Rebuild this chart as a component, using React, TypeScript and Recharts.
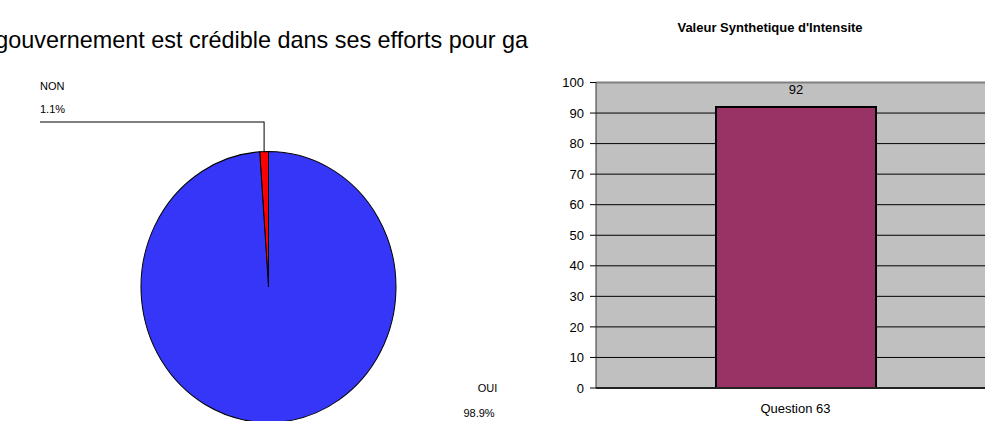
import React from 'react';
import {
  PieChart,
  Pie,
  Cell,
  BarChart,
  Bar,
  XAxis,
  YAxis,
  CartesianGrid,
  LabelList,
  ReferenceLine,
} from 'recharts';

const pieTitle = 'gouvernement est crédible dans ses efforts pour ga';
const pieLabels = ['NON', 'OUI'];
const pieValues = [1.1, 98.9];
const pieColors = ['#ff0000', '#3636f8'];

const barTitle = "Valeur Synthetique d'Intensite";
const barCategories = ['Question 63'];
const barValues = [92];
const yTicks = [0, 10, 20, 30, 40, 50, 60, 70, 80, 90, 100];

const pieData = pieLabels.map((name, i) => ({ name, value: pieValues[i] }));
const barData = barCategories.map((name, i) => ({ name, value: barValues[i] }));

const FONT = '"Liberation Sans", Arial, Helvetica, sans-serif';

// vertical stretch of the pie (it is slightly elliptical in the reference)
const PIE_CX = 268.5;
const PIE_CY = 287;
const PIE_R = 127.5;
const SY = 135.5 / 127.5;

// text that cancels the vertical stretch, so the glyphs keep their shape
function Txt(props: { x: number; y: number; anchor?: string; children: React.ReactNode }) {
  return (
    <text
      transform={`translate(${props.x},${props.y}) scale(1,${1 / SY})`}
      x={0}
      y={0}
      fontSize={11}
      fontFamily={FONT}
      fill="#000"
      textAnchor={props.anchor || 'start'}
    >
      {props.children}
    </text>
  );
}

// convert a wanted on-screen y to the unstretched y inside the chart
const uy = (yFinal: number) => PIE_CY + (yFinal - PIE_CY) / SY;

function renderPieLabel(props: any) {
  const { cx, cy, midAngle, outerRadius, index, percent, name } = props;
  const RAD = Math.PI / 180;
  const pct = (percent * 100).toFixed(1) + '%';
  if (index === 0) {
    const ax = cx + outerRadius * Math.cos(-midAngle * RAD);
    const ay = cy + outerRadius * Math.sin(-midAngle * RAD);
    const lineY = uy(122);
    const tx = 40;
    return (
      <g>
        <polyline
          points={`${tx},${lineY} ${ax},${lineY} ${ax},${ay}`}
          fill="none"
          stroke="#000"
          strokeWidth={1}
          vectorEffect="non-scaling-stroke"
        />
        <Txt x={tx} y={uy(89.5)}>{name}</Txt>
        <Txt x={tx} y={uy(112.5)}>{pct}</Txt>
      </g>
    );
  }
  return (
    <g>
      <Txt x={cx + 219} y={uy(392)} anchor="middle">{name}</Txt>
      <Txt x={cx + 210.5} y={uy(416.5)} anchor="middle">{pct}</Txt>
    </g>
  );
}

export default function App() {
  return (
    <div
      style={{
        position: 'fixed',
        left: 0,
        top: 0,
        width: 985,
        height: 421,
        overflow: 'hidden',
        background: '#fff',
        fontFamily: FONT,
      }}
    >
      <div
        style={{
          position: 'absolute',
          right: 985 - 528,
          top: 26,
          fontSize: 23.4,
          whiteSpace: 'nowrap',
          lineHeight: '28px',
          color: '#000',
        }}
      >
        {pieTitle}
      </div>
      <div
        style={{
          position: 'absolute',
          left: 0,
          top: 0,
          transform: `scaleY(${SY})`,
          transformOrigin: `0px ${PIE_CY}px`,
        }}
      >
        <PieChart width={560} height={421} margin={{ top: 0, right: 0, bottom: 0, left: 0 }}>
          <Pie
            data={pieData}
            dataKey="value"
            nameKey="name"
            cx={PIE_CX}
            cy={PIE_CY}
            outerRadius={PIE_R}
            startAngle={90}
            endAngle={450}
            stroke="#000"
            strokeWidth={1}
            label={renderPieLabel}
            labelLine={false}
            isAnimationActive={false}
          >
            {pieData.map((d, i) => (
              <Cell key={d.name} fill={pieColors[i]} />
            ))}
          </Pie>
        </PieChart>
      </div>
      <div
        style={{
          position: 'absolute',
          left: 620,
          width: 300,
          top: 20,
          textAlign: 'center',
          fontSize: 13,
          fontWeight: 'bold',
          whiteSpace: 'nowrap',
          lineHeight: '16px',
          color: '#000',
        }}
      >
        {barTitle}
      </div>
      <div style={{ position: 'absolute', left: 540, top: 0 }}>
        <BarChart
          width={460}
          height={421}
          data={barData}
          margin={{ top: 82.5, right: 5, bottom: 3, left: 0 }}
          barCategoryGap={0}
        >
          <CartesianGrid
            vertical={false}
            horizontal={true}
            stroke="#000"
            strokeWidth={1}
            fill="#c0c0c0"
            fillOpacity={1}
          />
          <ReferenceLine y={100} stroke="#808080" strokeWidth={2} />
          <XAxis
            dataKey="name"
            height={30}
            tickLine={false}
            axisLine={{ stroke: '#222', strokeWidth: 2 }}
            tick={{ fontSize: 13, fill: '#000', fontFamily: FONT }}
            tickMargin={10}
          />
          <YAxis
            width={56}
            domain={[0, 100]}
            ticks={yTicks}
            interval={0}
            axisLine={{ stroke: '#333', strokeWidth: 1 }}
            tickLine={{ stroke: '#000' }}
            tickSize={6}
            tickMargin={6}
            tick={{ fontSize: 13, fill: '#000', fontFamily: FONT }}
          />
          <Bar
            dataKey="value"
            fill="#993366"
            stroke="#000"
            strokeWidth={2}
            barSize={160}
            isAnimationActive={false}
          >
            <LabelList dataKey="value" position="top" offset={13} fill="#000" fontSize={13} fontFamily={FONT} />
          </Bar>
        </BarChart>
      </div>
    </div>
  );
}
